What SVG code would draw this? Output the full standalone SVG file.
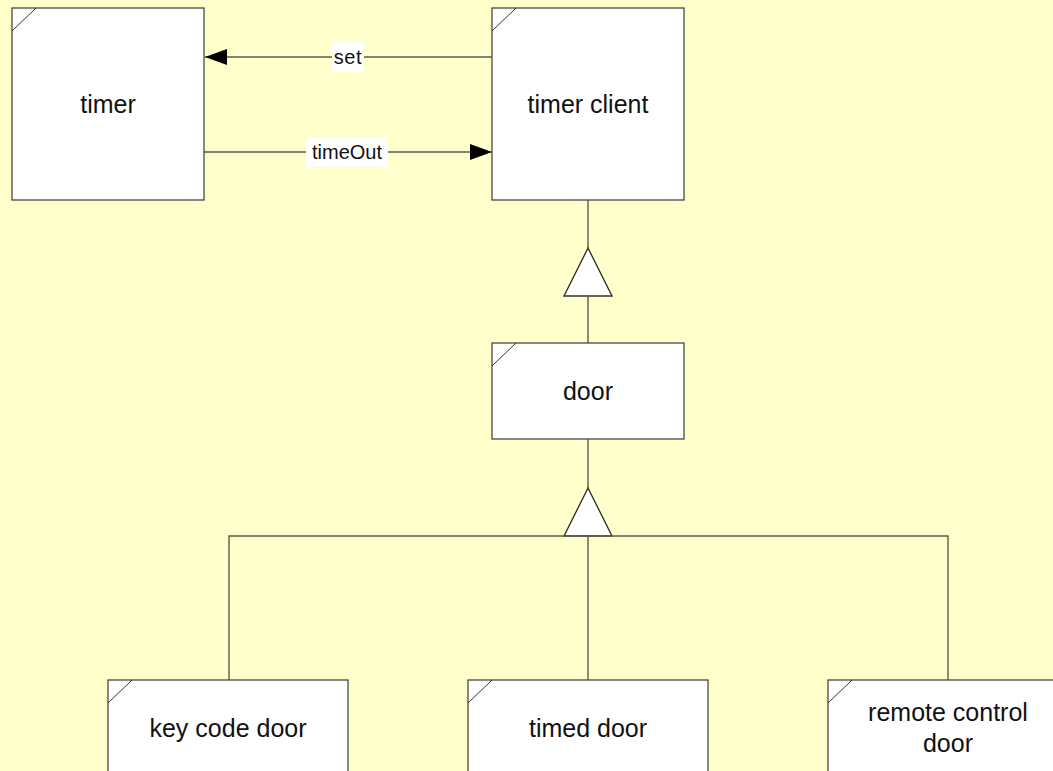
<svg xmlns="http://www.w3.org/2000/svg" width="1053" height="771" viewBox="0 0 1053 771">
  <style>
    .box { fill: #ffffff; stroke: #4a4a40; stroke-width: 1.3; }
    .tab { fill: none; stroke: #333333; stroke-width: 1; }
    .name { font-family: "Liberation Sans", Arial, sans-serif; font-size: 25px; fill: #111111; text-anchor: middle; }
    .wire { fill: none; stroke: #5c5c48; stroke-width: 1.4; }
    .tri { fill: #ffffff; stroke: #33332a; stroke-width: 1.4; }
    .lblbg { fill: #ffffff; }
    .lbl { font-family: "Liberation Sans", Arial, sans-serif; font-size: 20px; fill: #111111; text-anchor: middle; }
  </style>
  <defs>
    <marker id="arrow" viewBox="0 0 22 16" refX="22" refY="8" markerWidth="22" markerHeight="16" markerUnits="userSpaceOnUse" orient="auto">
      <path d="M0,0 L22,8 L0,16 Z" fill="#000000"/>
    </marker>
  </defs>

  <rect width="1053" height="771" fill="#ffffcc"/>

  <!-- connectors -->
  <g id="connectors">
    <!-- set: timer client -> timer -->
    <line class="wire" x1="492" y1="57" x2="205" y2="57" marker-end="url(#arrow)"/>
    <rect class="lblbg" x="332" y="42" width="32" height="30"/>
    <text class="lbl" x="348" y="64" letter-spacing="0.6">set</text>
    <!-- timeOut: timer -> timer client -->
    <line class="wire" x1="204" y1="152" x2="492" y2="152" marker-end="url(#arrow)"/>
    <rect class="lblbg" x="306" y="137" width="82" height="30"/>
    <text class="lbl" x="347" y="159">timeOut</text>

    <!-- door generalizes timer client -->
    <line class="wire" x1="588" y1="200" x2="588" y2="248"/>
    <polygon class="tri" points="588,248 612,296 564,296"/>
    <line class="wire" x1="588" y1="296" x2="588" y2="343"/>

    <!-- concrete doors generalize door -->
    <line class="wire" x1="588" y1="439" x2="588" y2="488"/>
    <polygon class="tri" points="588,488 612,536 564,536"/>
    <polyline class="wire" points="229,680 229,536 948,536 948,680"/>
    <line class="wire" x1="588" y1="536" x2="588" y2="680"/>
  </g>

  <g id="timer">
    <rect class="box" x="12" y="8" width="192" height="192"/>
    <line class="tab" x1="12" y1="31" x2="36" y2="8"/>
    <text class="name" x="108" y="113">timer</text>
  </g>

  <g id="timer-client">
    <rect class="box" x="492" y="8" width="192" height="192"/>
    <line class="tab" x1="492" y1="31" x2="516" y2="8"/>
    <text class="name" x="588" y="113">timer client</text>
  </g>

  <g id="door">
    <rect class="box" x="492" y="343" width="192" height="96"/>
    <line class="tab" x1="492" y1="366" x2="516" y2="343"/>
    <text class="name" x="588" y="400">door</text>
  </g>

  <g id="key-code-door">
    <rect class="box" x="108" y="680" width="240" height="96"/>
    <line class="tab" x1="108" y1="703" x2="132" y2="680"/>
    <text class="name" x="228" y="737">key code door</text>
  </g>

  <g id="timed-door">
    <rect class="box" x="468" y="680" width="240" height="96"/>
    <line class="tab" x1="468" y1="703" x2="492" y2="680"/>
    <text class="name" x="588" y="737">timed door</text>
  </g>

  <g id="remote-control-door">
    <rect class="box" x="828" y="680" width="240" height="96"/>
    <line class="tab" x1="828" y1="703" x2="852" y2="680"/>
    <text class="name" x="948" y="721">remote control</text>
    <text class="name" x="948" y="752">door</text>
  </g>
</svg>
